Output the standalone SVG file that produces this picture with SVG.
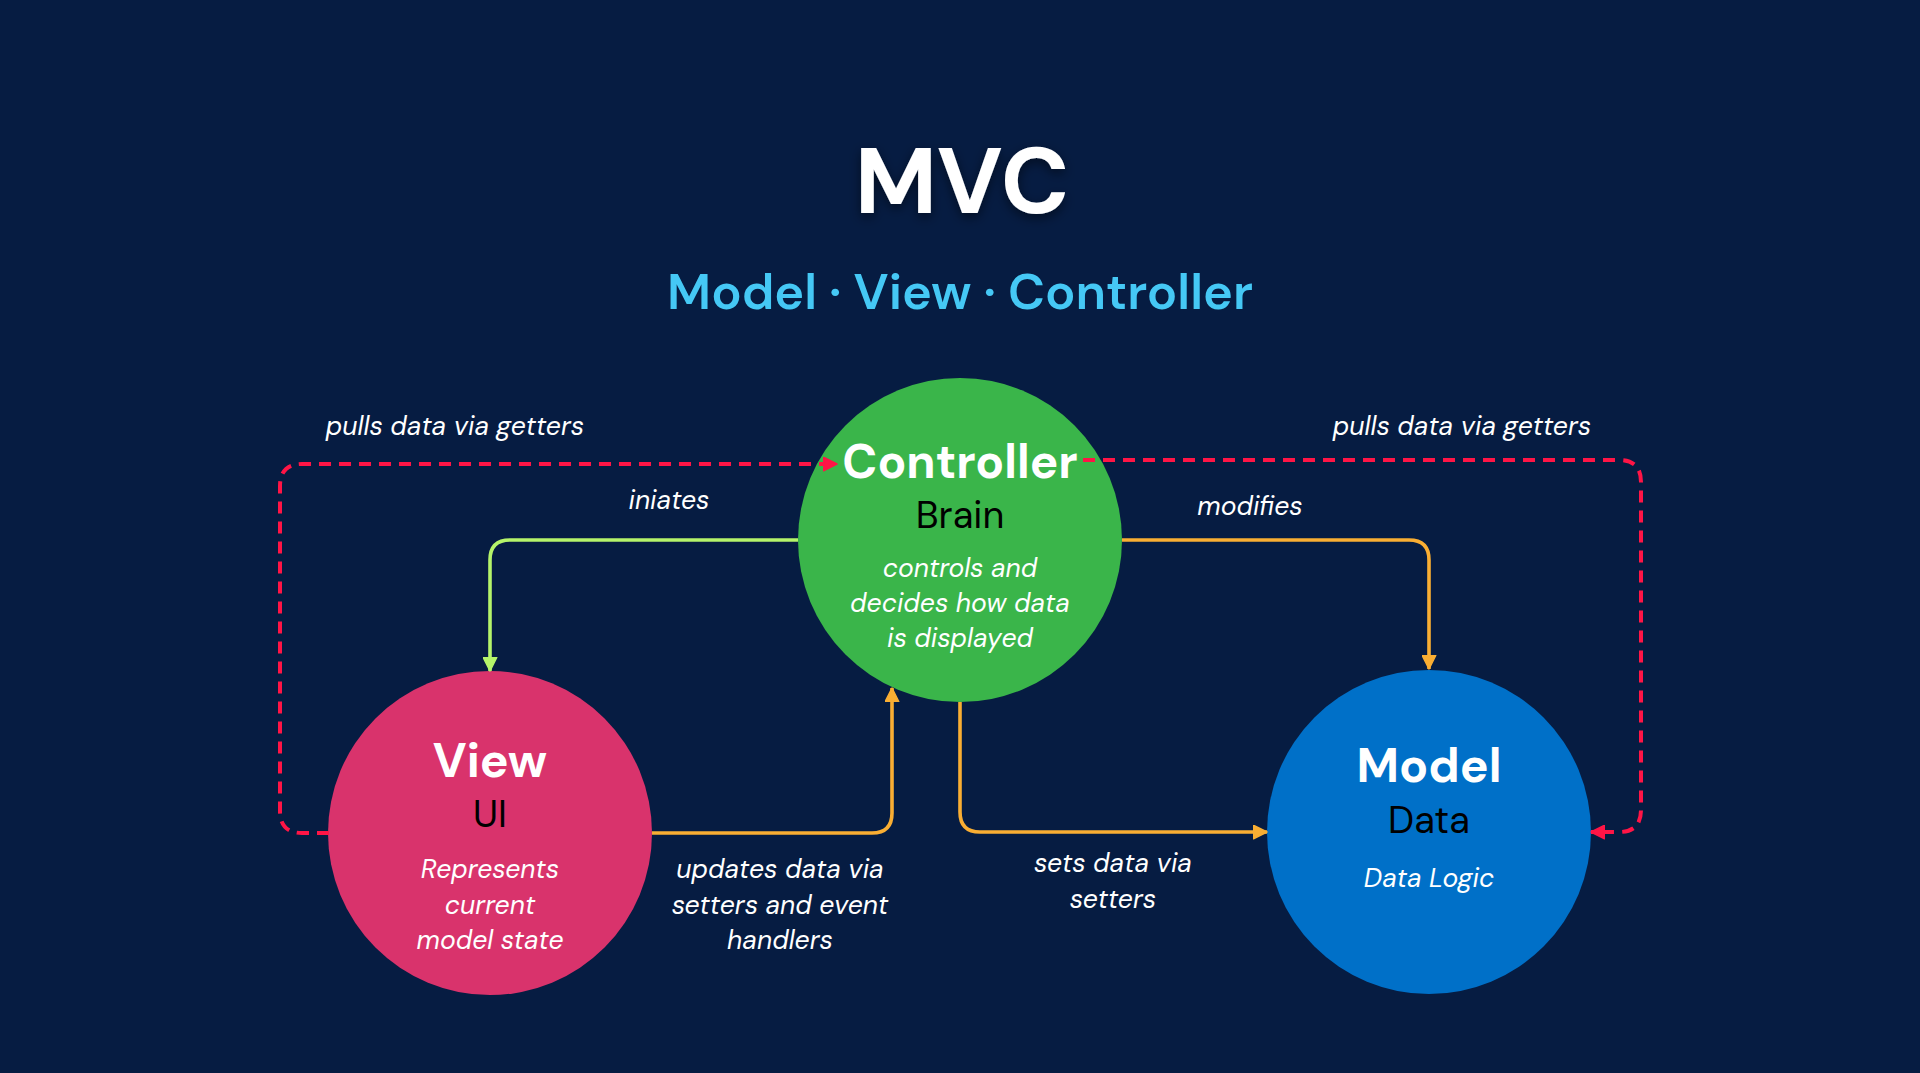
<svg xmlns="http://www.w3.org/2000/svg" width="1920" height="1073" viewBox="0 0 1920 1073">
<defs>
<style>
text{font-family:"DM Sans",Inter,"Noto Sans",sans-serif;text-anchor:middle}
.title{font-size:93px;font-weight:700;fill:#ffffff}
.sub{font-size:50.5px;font-weight:600;fill:#45C8F5}
.name{font-size:48px;font-weight:700;fill:#ffffff}
.role{font-size:38px;font-weight:400;fill:#000000}
.desc{font-size:26.5px;font-style:italic;fill:#ffffff}
.lbl{font-size:26.5px;font-style:italic;fill:#ffffff}
.ln{fill:none;stroke-width:3.6}
.red{stroke:#FF1546;stroke-dasharray:12 8;stroke-width:4}
.org{stroke:#F9AE33}
.grn{stroke:#B5F46A}
</style>
<marker id="aR" viewBox="0 0 10 10" refX="9.5" refY="5" markerWidth="15" markerHeight="15" markerUnits="userSpaceOnUse" orient="auto"><path d="M0.5,0.5 L9.5,5 L0.5,9.5 z" fill="#FF1546" stroke="#FF1546" stroke-width="1" stroke-linejoin="round"/></marker>
<marker id="aO" viewBox="0 0 10 10" refX="9.5" refY="5" markerWidth="15" markerHeight="15" markerUnits="userSpaceOnUse" orient="auto"><path d="M0.5,0.5 L9.5,5 L0.5,9.5 z" fill="#F9AE33" stroke="#F9AE33" stroke-width="1" stroke-linejoin="round"/></marker>
<marker id="aG" viewBox="0 0 10 10" refX="9.5" refY="5" markerWidth="15" markerHeight="15" markerUnits="userSpaceOnUse" orient="auto"><path d="M0.5,0.5 L9.5,5 L0.5,9.5 z" fill="#B5F46A" stroke="#B5F46A" stroke-width="1" stroke-linejoin="round"/></marker>
<filter id="sh" x="-20%" y="-30%" width="140%" height="160%"><feDropShadow dx="0" dy="4" stdDeviation="6" flood-color="#000000" flood-opacity="0.5"/></filter>
</defs>
<rect width="1920" height="1073" fill="#061C42"/>
<text class="title" x="962" y="213" filter="url(#sh)">MVC</text>
<text class="sub" x="960" y="309">Model · View · Controller</text>

<g id="controller">
<circle cx="960" cy="540" r="162" fill="#3AB54A"/>
<text class="name" x="960" y="478" style="font-size:47.5px">Controller</text>
<text class="role" x="960" y="528">Brain</text>
<text class="desc" x="960" y="577">controls and</text>
<text class="desc" x="960" y="612">decides how data</text>
<text class="desc" x="960" y="647">is displayed</text>
</g>
<g id="view">
<circle cx="490" cy="833" r="162" fill="#D9336C"/>
<text class="name" x="490" y="777">View</text>
<text class="role" x="490" y="827">UI</text>
<text class="desc" x="490" y="878">Represents</text>
<text class="desc" x="490" y="914">current</text>
<text class="desc" x="490" y="949">model state</text>
</g>
<g id="model">
<circle cx="1429" cy="832" r="162" fill="#0070C8"/>
<text class="name" x="1429" y="782">Model</text>
<text class="role" x="1429" y="833">Data</text>
<text class="desc" x="1429" y="887">Data Logic</text>
</g>

<g id="connectors">
<path class="ln grn" d="M798 540 H510 Q490 540 490 560 V671" marker-end="url(#aG)"/>
<path class="ln org" d="M1122 540 H1409 Q1429 540 1429 560 V669" marker-end="url(#aO)"/>
<path class="ln org" d="M652 833 H872 Q892 833 892 813 V688" marker-end="url(#aO)"/>
<path class="ln org" d="M960 702 V812 Q960 832 980 832 H1267" marker-end="url(#aO)"/>
<path class="ln red" d="M329 833 H302 Q280 833 280 811 V486 Q280 464 302 464 H837" marker-end="url(#aR)"/>
<path class="ln red" d="M1083 460 H1619 Q1641 460 1641 482 V810 Q1641 832 1619 832 H1591" marker-end="url(#aR)"/>
<text class="lbl" x="455" y="435">pulls data via getters</text>
<text class="lbl" x="1462" y="435">pulls data via getters</text>
<text class="lbl" x="669" y="509">iniates</text>
<text class="lbl" x="1250" y="515">modifies</text>
<text class="lbl" x="780" y="878">updates data via</text>
<text class="lbl" x="780" y="914">setters and event</text>
<text class="lbl" x="780" y="949">handlers</text>
<text class="lbl" x="1113" y="872">sets data via</text>
<text class="lbl" x="1113" y="908">setters</text>
</g>
</svg>
